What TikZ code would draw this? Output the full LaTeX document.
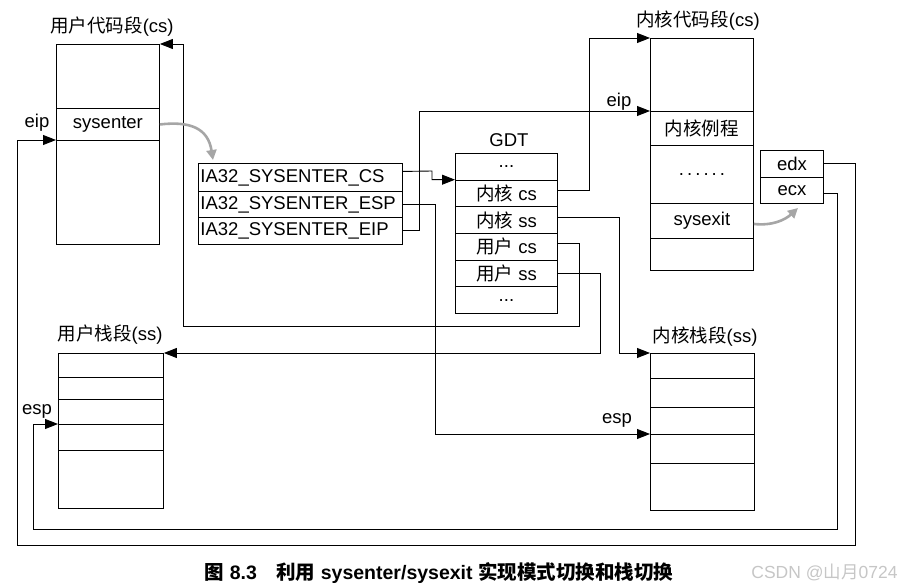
\documentclass[tikz,border=0pt]{standalone}
\usepackage{fontspec}
\setmainfont{Liberation Sans}
\newfontfamily\cjk{Noto Sans CJK SC}
\usetikzlibrary{arrows.meta}
\begin{document}
\begin{tikzpicture}[x=1pt,y=-1pt,line width=0.9pt,
  txt/.style={font=\fontsize{18.5}{20}\selectfont},
  cell/.style={draw,anchor=north west,inner sep=0pt,txt},
  lcell/.style={cell,text width=200pt,inner xsep=2pt,align=left},
  lbl/.style={txt,inner sep=0pt},
  arr/.style={-{Triangle[length=13pt,width=10pt]}},
  garr/.style={draw=gray!70,line width=2.6pt,-{Triangle[length=10pt,width=10pt]}}]
\useasboundingbox (0,0) rectangle (903,585);
% user code segment
\node[cell,minimum width=103,minimum height=64] (uc1) at (56,44) {};
\node[cell,minimum width=103,minimum height=32] (uc2) at (56,108) {sysenter};
\node[cell,minimum width=103,minimum height=104] (uc3) at (56,140) {};
\node[lbl] (tuc) at (112,27) {{\cjk 用户代码段}(cs)};
\node[lbl] (leip1) at (37,123) {eip};
% IA32 MSRs
\node[lcell,minimum height=28] (ia1) at (198,163) {IA32\_SYSENTER\_CS};
\node[lcell,minimum height=26] (ia2) at (198,191) {IA32\_SYSENTER\_ESP};
\node[lcell,minimum height=27] (ia3) at (198,217) {IA32\_SYSENTER\_EIP};
% GDT
\node[lbl] (tgdt) at (509,140) {GDT};
\node[cell,minimum width=102,minimum height=26.7] (g1) at (455,153) {...};
\node[cell,minimum width=102,minimum height=26.7] (g2) at (455,179.7) {{\cjk 内核} cs};
\node[cell,minimum width=102,minimum height=26.7] (g3) at (455,206.4) {{\cjk 内核} ss};
\node[cell,minimum width=102,minimum height=26.7] (g4) at (455,233.1) {{\cjk 用户} cs};
\node[cell,minimum width=102,minimum height=26.7] (g5) at (455,259.8) {{\cjk 用户} ss};
\node[cell,minimum width=102,minimum height=26.7] (g6) at (455,286.5) {...};
% kernel code segment
\node[lbl] (tkc) at (698,21) {{\cjk 内核代码段}(cs)};
\node[cell,minimum width=103,minimum height=73] (kc1) at (650,38) {};
\node[cell,minimum width=103,minimum height=34] (kc2) at (650,111) {\cjk 内核例程};
\node[cell,minimum width=103,minimum height=58] (kc3) at (650,145) {.\,.\,.\,.\,.\,.};
\node[cell,minimum width=103,minimum height=35] (kc4) at (650,203) {sysexit};
\node[cell,minimum width=103,minimum height=32] (kc5) at (650,238) {};
\node[lbl] (leip2) at (619,102) {eip};
% edx / ecx
\node[cell,minimum width=63,minimum height=27] (edx) at (760,150) {edx};
\node[cell,minimum width=63,minimum height=26] (ecx) at (760,177) {ecx};
% kernel stack segment
\node[lbl] (tks) at (705,337) {{\cjk 内核栈段}(ss)};
\node[cell,minimum width=104,minimum height=25] (ks1) at (650,353) {};
\node[cell,minimum width=104,minimum height=29] (ks2) at (650,378) {};
\node[cell,minimum width=104,minimum height=27] (ks3) at (650,407) {};
\node[cell,minimum width=104,minimum height=29] (ks4) at (650,434) {};
\node[cell,minimum width=104,minimum height=47] (ks5) at (650,463) {};
\node[lbl] (lesp2) at (617,420) {esp};
% user stack segment
\node[lbl] (tus) at (110,335) {{\cjk 用户栈段}(ss)};
\node[cell,minimum width=105,minimum height=24] (us1) at (58,353) {};
\node[cell,minimum width=105,minimum height=22] (us2) at (58,377) {};
\node[cell,minimum width=105,minimum height=25] (us3) at (58,399) {};
\node[cell,minimum width=105,minimum height=26] (us4) at (58,424) {};
\node[cell,minimum width=105,minimum height=58] (us5) at (58,450) {};
\node[lbl] (lesp1) at (37,411) {esp};
% connectors
\draw[arr] ([yshift=6pt]ia1.east) -- (432,171) |- (g2.north west);
\draw[arr] (ia2.east) -| (435,434) -- (ks4.north west);
\draw[arr] (ia3.east) -| (419,111) -- (kc2.north west);
\draw[arr] ([yshift=3pt]g2.east) -| (589,38) -- (kc1.north west);
\draw[arr] ([yshift=3pt]g3.east) -| (619,353) -- (ks1.north west);
\draw[arr] ([yshift=3pt]g4.east) -| (579,326) -| (183,44) -- (uc1.north east);
\draw[arr] (g5.east) -| (600,353) -- (us1.north east);
\draw[arr] (edx.east) -| (855,545) -| (17,140) -- (uc3.north west);
\draw[arr] ([yshift=-3pt]ecx.east) -| (837,529) -| (33,424) -- (us4.north west);
% gray curved arrows
\draw[garr] (uc2.east) .. controls (190,121) and (208,128) .. (213,160);
\draw[garr] ([yshift=-3pt]kc4.east) .. controls (772,226) and (785,220) .. (798,208);
% caption
\node[font=\fontsize{19.5}{22}\selectfont\bfseries,inner sep=0pt] (cap) at (439,573)
  {{\cjk 图} 8.3\quad{\cjk 利用} sysenter/sysexit {\cjk 实现模式切换和栈切换}};
\node[font=\fontsize{17.5}{20}\selectfont,text=gray!45,anchor=east,inner sep=0pt] (wm) at (898,572)
  {CSDN @{\cjk 山月}0724};
\end{tikzpicture}
\end{document}
